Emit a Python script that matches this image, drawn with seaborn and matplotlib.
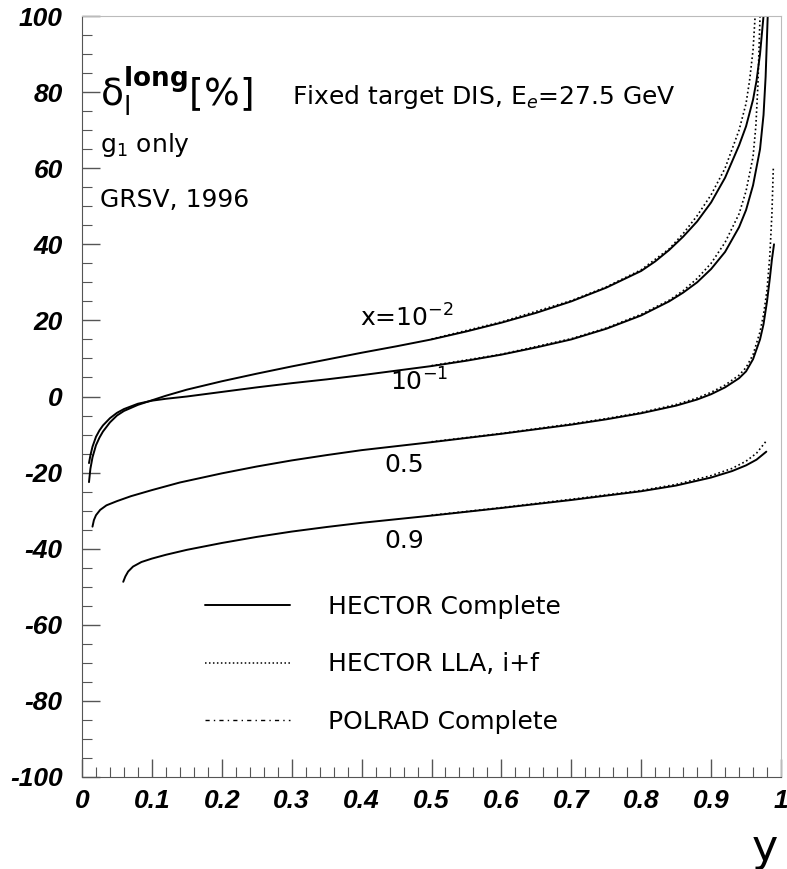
import pandas as pd
import seaborn as sns
import matplotlib.pyplot as plt
from matplotlib.lines import Line2D
from matplotlib.ticker import MultipleLocator
from matplotlib.font_manager import FontProperties

# read-off values, delta_1^long [%] vs y
# x = 1e-2
y_a = [0.01, 0.012, 0.015, 0.02, 0.025, 0.03, 0.04, 0.05, 0.06, 0.08, 0.1, 0.12, 0.15, 0.2, 0.25,
       0.3, 0.35, 0.4, 0.45, 0.5, 0.55, 0.6, 0.65, 0.7, 0.75, 0.8, 0.82, 0.84, 0.86, 0.88, 0.9,
       0.92, 0.94, 0.95, 0.96, 0.965, 0.97, 0.975]
d_a = [-22.5, -19, -16, -12.8, -10.8, -9.2, -6.8, -5.0, -3.8, -2.2, -1.0, 0.2, 1.8, 4.0, 6.0,
       7.9, 9.7, 11.5, 13.2, 15, 17.1, 19.4, 22, 25, 28.6, 33, 35.5, 38.5, 42, 46, 51,
       57.5, 66, 71, 78, 83, 90, 100]
y_a_lla = [0.5, 0.6, 0.7, 0.75, 0.8, 0.84, 0.86, 0.88, 0.9, 0.92, 0.94, 0.95, 0.955, 0.96, 0.963]
d_a_lla = [15.1, 19.6, 25.2, 28.8, 33.3, 38.8, 42.8, 47.5, 53, 60, 70, 77, 83, 91, 100]

# x = 1e-1
y_b = [0.01, 0.012, 0.015, 0.02, 0.025, 0.03, 0.04, 0.05, 0.06, 0.08, 0.1, 0.12, 0.15, 0.2, 0.25,
       0.3, 0.35, 0.4, 0.45, 0.5, 0.55, 0.6, 0.65, 0.7, 0.75, 0.8, 0.84, 0.86, 0.88, 0.9,
       0.92, 0.94, 0.95, 0.96, 0.97, 0.975, 0.978, 0.981]
d_b = [-17.5, -15.5, -13.2, -10.6, -8.9, -7.6, -5.7, -4.3, -3.3, -1.9, -1.1, -0.6, 0.0, 1.2, 2.4,
       3.5, 4.5, 5.6, 6.8, 8.0, 9.4, 11, 12.9, 15, 17.8, 21.3, 25, 27.3, 30, 33.5,
       38, 44.5, 49, 55.5, 65, 74, 84, 100]
y_b_lla = [0.5, 0.6, 0.7, 0.75, 0.8, 0.84, 0.86, 0.88, 0.9, 0.92, 0.94, 0.95, 0.96, 0.964, 0.967, 0.97]
d_b_lla = [8.1, 11.1, 15.2, 18.0, 21.6, 25.3, 27.8, 31, 35, 40.5, 48, 54, 63, 71, 82, 100]

# x = 0.5
y_c = [0.015, 0.017, 0.02, 0.026, 0.035, 0.05, 0.07, 0.1, 0.14, 0.2, 0.25, 0.3, 0.35, 0.4, 0.5,
       0.6, 0.7, 0.75, 0.8, 0.85, 0.88, 0.9, 0.92, 0.94, 0.95, 0.96, 0.97, 0.975, 0.98, 0.984,
       0.987, 0.99]
d_c = [-34.2, -32.5, -31.2, -29.8, -28.6, -27.5, -26.2, -24.6, -22.6, -20.2, -18.4, -16.8, -15.4, -14.1, -12.0,
       -9.8, -7.4, -6.0, -4.4, -2.4, -0.8, 0.6, 2.4, 4.8, 6.6, 9.8, 15, 19, 25, 31,
       36, 40]
y_c_lla = [0.5, 0.6, 0.7, 0.75, 0.8, 0.85, 0.88, 0.9, 0.92, 0.94, 0.95, 0.96, 0.97, 0.975, 0.98,
           0.984, 0.987, 0.989]
d_c_lla = [-11.9, -9.7, -7.2, -5.8, -4.2, -2.1, -0.4, 1.1, 3.0, 5.6, 7.6, 11, 17, 21.5, 28,
           37, 48, 60]

# x = 0.9
y_d = [0.059, 0.062, 0.066, 0.073, 0.085, 0.1, 0.12, 0.15, 0.2, 0.25, 0.3, 0.35, 0.4, 0.5,
       0.6, 0.7, 0.8, 0.85, 0.9, 0.93, 0.95, 0.965, 0.979]
d_d = [-48.7, -47.3, -46, -44.7, -43.5, -42.6, -41.6, -40.3, -38.5, -36.9, -35.5, -34.3, -33.2, -31.3,
       -29.3, -27.2, -24.9, -23.4, -21.3, -19.6, -18.1, -16.6, -14.5]
y_d_lla = [0.5, 0.6, 0.7, 0.8, 0.85, 0.9, 0.93, 0.95, 0.965, 0.978]
d_d_lla = [-31.2, -29.2, -27.0, -24.7, -23.1, -20.8, -18.9, -17.0, -14.9, -11.9]

curve_labels = [r'x=10$^{-2}$', r'10$^{-1}$', '0.5', '0.9']
legend_labels = ['HECTOR Complete', 'HECTOR LLA, i+f', 'POLRAD Complete']
x_ticks = [0, 0.1, 0.2, 0.3, 0.4, 0.5, 0.6, 0.7, 0.8, 0.9, 1.0]
x_ticklabels = ['0', '0.1', '0.2', '0.3', '0.4', '0.5', '0.6', '0.7', '0.8', '0.9', '1']
y_ticks = [-100, -80, -60, -40, -20, 0, 20, 40, 60, 80, 100]
y_ticklabels = ['-100', '-80', '-60', '-40', '-20', '0', '20', '40', '60', '80', '100']

sns.set_style("ticks")
plt.rcParams['font.family'] = ['DejaVu Sans']
plt.rcParams['mathtext.fontset'] = 'dejavusans'
plt.rcParams['text.color'] = 'black'
plt.rcParams['xtick.labelcolor'] = 'black'
plt.rcParams['ytick.labelcolor'] = 'black'

fig = plt.figure(figsize=(7.87, 8.69), dpi=100)
ax = fig.add_axes([82 / 787, 1 - 777 / 869, 699 / 787, 761 / 869])

solid = [(y_a, d_a), (y_b, d_b), (y_c, d_c), (y_d, d_d)]
dotted = [(y_a_lla, d_a_lla), (y_b_lla, d_b_lla), (y_c_lla, d_c_lla), (y_d_lla, d_d_lla)]

for xs, ys in dotted:
    df = pd.DataFrame({'y': xs, 'd': ys})
    sns.lineplot(data=df, x='y', y='d', ax=ax, color='black', linestyle=(0, (1, 1.6)),
                 linewidth=1.2, sort=False, estimator=None)
for xs, ys in solid:
    df = pd.DataFrame({'y': xs, 'd': ys})
    sns.lineplot(data=df, x='y', y='d', ax=ax, color='black', linewidth=1.4,
                 sort=False, estimator=None)

ax.set_xlim(0, 1)
ax.set_ylim(-100, 100)
tick_font = FontProperties(family=['Liberation Sans', 'DejaVu Sans'], weight='bold',
                           style='italic', size=19)
ax.set_xticks(x_ticks, x_ticklabels, fontproperties=tick_font)
ax.set_yticks(y_ticks, y_ticklabels, fontproperties=tick_font)
ax.xaxis.set_minor_locator(MultipleLocator(0.02))
ax.yaxis.set_minor_locator(MultipleLocator(5))
ax.tick_params(which='both', direction='in', color='#555555', labelcolor='black',
               top=False, right=False)
ax.tick_params(which='major', length=13, width=1)
ax.tick_params(which='minor', length=7, width=0.8)
ax.tick_params(axis='y', pad=14)
ax.tick_params(axis='x', pad=9)
ax.set_xlabel('')
ax.set_ylabel('')
for s in ['left', 'bottom']:
    ax.spines[s].set_color('#555555')
for s in ['top', 'right']:
    ax.spines[s].set_color('#bbbbbb')

# annotations
ax.text(0.026, 80, r'$\mathrm{\delta}_{\rm l}^{\bf long}$[%]', fontsize=27, va='center', ha='left')
ax.text(0.300, 78.7, r'Fixed target DIS, E$_e$=27.5 GeV', fontsize=18, va='center', ha='left')
ax.text(0.026, 66, r'g$_1$ only', fontsize=18, va='center', ha='left')
ax.text(0.026, 51.6, 'GRSV, 1996', fontsize=18, va='center', ha='left')
for (lx, ly), lab in zip([(0.398, 20.6), (0.441, 3.8), (0.433, -18), (0.433, -38)], curve_labels):
    ax.text(lx, ly, lab, fontsize=18, va='center', ha='left')

handles = [Line2D([], [], color='black', linewidth=1.4),
           Line2D([], [], color='black', linewidth=1.1, linestyle=(0, (1, 1.6))),
           Line2D([], [], color='black', linewidth=1.0, linestyle=(0, (3, 3, 1, 3)))]
ax.legend(handles, legend_labels, loc='upper left', bbox_to_anchor=(0.176, 0.239),
          frameon=False, fontsize=18, handlelength=3.4, handletextpad=1.5,
          labelspacing=1.33, borderpad=0, borderaxespad=0)

fig.text(0.972, 0.024, 'y', fontsize=32, ha='center', va='center')

plt.savefig('out.png', dpi=100)
